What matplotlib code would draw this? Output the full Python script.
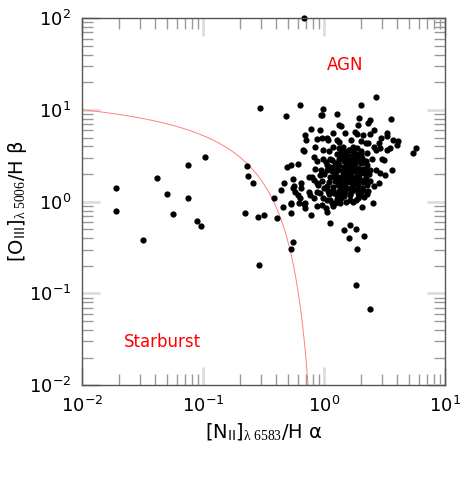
import numpy as np
import matplotlib
matplotlib.use('Agg')
import matplotlib.pyplot as plt

plt.rcParams['font.family'] = ['DejaVu Sans']
plt.rcParams['mathtext.fontset'] = 'custom'
plt.rcParams['mathtext.rm'] = 'Liberation Serif'
plt.rcParams['mathtext.it'] = 'Liberation Serif:italic'
plt.rcParams['mathtext.sf'] = 'DejaVu Sans'

# log10([NII]/Ha) and log10([OIII]/Hb)
log_nii_ha = [
    # outliers / starburst side
    -0.165, -1.72, -1.72, -1.50, -1.38, -1.30, -1.25, -1.13, -1.13, -1.05,
    -1.02, -0.99, -0.66, -0.64, -0.63, -0.59, -0.55, -0.50, -0.54, -0.53,
    -0.42, -0.39, 0.26, 0.375, -0.28,
    # main cloud
    0.43, -0.20, -0.01, 0.30, 0.10, -0.03, -0.02, -0.32, 0.29, 0.38,
    0.36, 0.55, 0.12, 0.14, 0.28, -0.11, -0.04, -0.16, -0.15, 0.07,
    0.17, 0.25, 0.27, 0.32, 0.38, 0.41, 0.52, 0.52, 0.57, 0.61,
    0.60, 0.47, 0.45, -0.06, -0.02, 0.02, 0.03, 0.10, 0.12, 0.22,
    0.30, 0.34, 0.36, 0.41, 0.43, 0.46, 0.52, 0.54, 0.76, 0.73,
    -0.18, -0.17, -0.08, -0.01, 0.07, 0.12, 0.16, 0.20, 0.24, 0.30,
    0.35, 0.39, 0.48, 0.49, -0.31, -0.28, -0.22, -0.09, -0.06, -0.08,
    -0.01, 0.05, 0.09, 0.13, 0.17, 0.21, 0.25, 0.30, 0.34, 0.38,
    0.43, 0.46, 0.50, 0.56, -0.26, -0.33, -0.10, -0.09, -0.06, -0.04,
    0.02, 0.05, 0.09, 0.12, 0.16, 0.18, 0.20, 0.23, 0.27, 0.30,
    0.34, 0.38, 0.41, 0.45, -0.36, -0.26, -0.24, -0.19, -0.22, -0.20,
    -0.16, -0.17, -0.28, -0.28, -0.12, -0.09, -0.06, -0.04, -0.01, 0.02,
    0.07, 0.10, 0.13, 0.17, 0.21, 0.24, 0.28, 0.32, 0.35, -0.34,
    -0.28, -0.11, -0.06, -0.02, 0.01, 0.02, 0.07, 0.09, 0.14, 0.16,
    0.21, 0.24, 0.28, 0.31, 0.40, 0.05, 0.16, 0.21, 0.26, 0.20,
    0.33, -0.26, 0.27, -0.21, -0.16, -0.13, -0.13, -0.19, -0.25,
    # dense core
    0.10, 0.14, 0.18, 0.22, 0.26, 0.08, 0.12, 0.16, 0.20, 0.24,
    0.28, 0.32, 0.06, 0.11, 0.15, 0.19, 0.22, 0.26, 0.29, 0.33,
    0.04, 0.09, 0.13, 0.17, 0.21, 0.25, 0.28, 0.32, 0.03, 0.08,
    0.12, 0.15, 0.19, 0.23, 0.27, 0.30, 0.05, 0.10, 0.13, 0.18,
    0.26, 0.33, 0.00, -0.02, 0.01, 0.04, 0.15, 0.27, 0.31, 0.35,
    0.37, 0.36, 0.20, 0.16, 0.24, 0.11, 0.07, 0.29, 0.18, 0.14,
    0.02, 0.06, 0.09, 0.13, 0.17, 0.21, 0.25, 0.29, 0.31, 0.34,
    0.00, 0.04, 0.08, 0.12, 0.16, 0.20, 0.24, 0.28, 0.32, 0.36,
    -0.03, -0.05, 0.02, 0.06, 0.11, 0.15, 0.19, 0.23, 0.27, 0.31,
    0.35, 0.10, 0.14, 0.22, 0.26, 0.18, 0.12, 0.22, 0.05, 0.30,
]
log_oiii_hb = [
    2.00, 0.15, -0.10, -0.415, 0.26, 0.08, -0.135, 0.40, 0.045, -0.21,
    -0.26, 0.49, -0.12, 0.39, 0.28, 0.20, -0.17, -0.14, -0.695, 1.02,
    0.035, -0.18, -0.91, -1.165, -0.52,
    1.14, 1.055, 1.01, 1.05, 0.96, 0.95, 0.94, 0.93, 0.91, 0.89,
    0.855, 0.90, 0.84, 0.82, 0.84, 0.79, 0.78, 0.73, 0.67, 0.75,
    0.75, 0.76, 0.74, 0.73, 0.74, 0.78, 0.75, 0.72, 0.67, 0.66,
    0.62, 0.69, 0.64, 0.68, 0.69, 0.69, 0.67, 0.67, 0.65, 0.67,
    0.66, 0.64, 0.64, 0.60, 0.56, 0.58, 0.56, 0.58, 0.59, 0.53,
    0.56, 0.55, 0.60, 0.56, 0.60, 0.58, 0.55, 0.56, 0.60, 0.55,
    0.53, 0.47, 0.47, 0.45, 0.38, 0.40, 0.41, 0.49, 0.44, 0.36,
    0.46, 0.47, 0.42, 0.46, 0.47, 0.44, 0.46, 0.42, 0.44, 0.35,
    0.35, 0.31, 0.29, 0.34, 0.25, 0.20, 0.27, 0.24, 0.20, 0.29,
    0.35, 0.27, 0.31, 0.24, 0.33, 0.27, 0.24, 0.37, 0.31, 0.24,
    0.27, 0.22, 0.17, 0.20, 0.13, 0.15, 0.11, 0.15, 0.07, 0.04,
    -0.02, -0.03, -0.01, -0.03, 0.07, 0.04, 0.11, 0.09, 0.04, 0.17,
    0.13, 0.07, 0.17, 0.11, 0.07, 0.13, 0.09, 0.13, 0.18, -0.06,
    -0.12, -0.15, -0.05, -0.04, -0.07, -0.11, -0.05, -0.02, 0.04, 0.06,
    0.02, 0.00, 0.04, -0.06, -0.02, -0.23, -0.31, -0.25, -0.30, -0.40,
    -0.37, -0.44, -0.52, -0.02, -0.07, 0.10, 0.27, 0.20, 0.17,
    0.52, 0.50, 0.52, 0.50, 0.52, 0.38, 0.40, 0.38, 0.40, 0.39,
    0.37, 0.36, 0.33, 0.34, 0.30, 0.31, 0.28, 0.27, 0.29, 0.31,
    0.21, 0.22, 0.20, 0.19, 0.21, 0.20, 0.18, 0.21, 0.12, 0.09,
    0.12, 0.14, 0.15, 0.16, 0.14, 0.10, 0.02, 0.03, -0.01, 0.00,
    0.02, 0.05, 0.30, 0.22, 0.43, 0.55, 0.60, 0.58, 0.48, 0.40,
    0.30, 0.12, 0.47, 0.44, 0.33, 0.27, 0.16, 0.06, 0.36, 0.08,
    0.40, 0.45, 0.30, 0.26, 0.24, 0.35, 0.42, 0.44, 0.33, 0.24,
    0.15, 0.08, 0.27, 0.47, 0.52, 0.56, 0.55, 0.48, 0.43, 0.35,
    0.35, 0.18, 0.02, -0.02, 0.18, 0.34, 0.42, 0.25, 0.22, 0.15,
    0.08, 0.42, 0.55, 0.45, 0.35, 0.28, 0.07, 0.10, 0.38, 0.52,
]

nii_ha = 10 ** np.array(log_nii_ha)
oiii_hb = 10 ** np.array(log_oiii_hb)

# Kauffmann et al. (2003) starburst / AGN dividing line
log_x_line = np.linspace(-2.0, -0.02, 400)
log_y_line = 0.61 / (log_x_line - 0.05) + 1.3

fig = plt.figure(figsize=(4.63, 4.79), dpi=100)
ax = fig.add_axes([0.178, 0.196, 0.784, 0.766])

ax.plot(10 ** log_x_line, 10 ** log_y_line, color='#ff8080', lw=0.7)
ax.plot(nii_ha, oiii_hb, 'o', color='black', ms=4.5, mec='none', clip_on=False)

ax.set_xscale('log')
ax.set_yscale('log')
ax.set_xlim(0.01, 10)
ax.set_ylim(0.01, 100)

ax.text(10 ** 0.17, 10 ** 1.49, 'AGN', color='red', fontsize=12,
        ha='center', va='center')
ax.text(10 ** -1.34, 10 ** -1.53, 'Starburst', color='red', fontsize=12,
        ha='center', va='center')

for s in ax.spines.values():
    s.set_color('#555555')
    s.set_linewidth(1.0)

ax.tick_params(which='major', direction='in', length=13, width=2,
               color='#dddddd', top=True, right=True, labelsize=13, pad=8)
ax.tick_params(which='minor', direction='in', length=8, width=1,
               color='#999999', top=True, right=True)

ax.set_xlabel('[N$_{\\mathsf{II}}$]$_{\\mathrm{\\lambda\\ 6583}}$/H α', fontsize=14, labelpad=4)
ax.set_ylabel('[O$_{\\mathsf{III}}$]$_{\\mathrm{\\lambda\\ 5006}}$/H β', fontsize=14, labelpad=0)

fig.savefig('out.png', dpi=100)
